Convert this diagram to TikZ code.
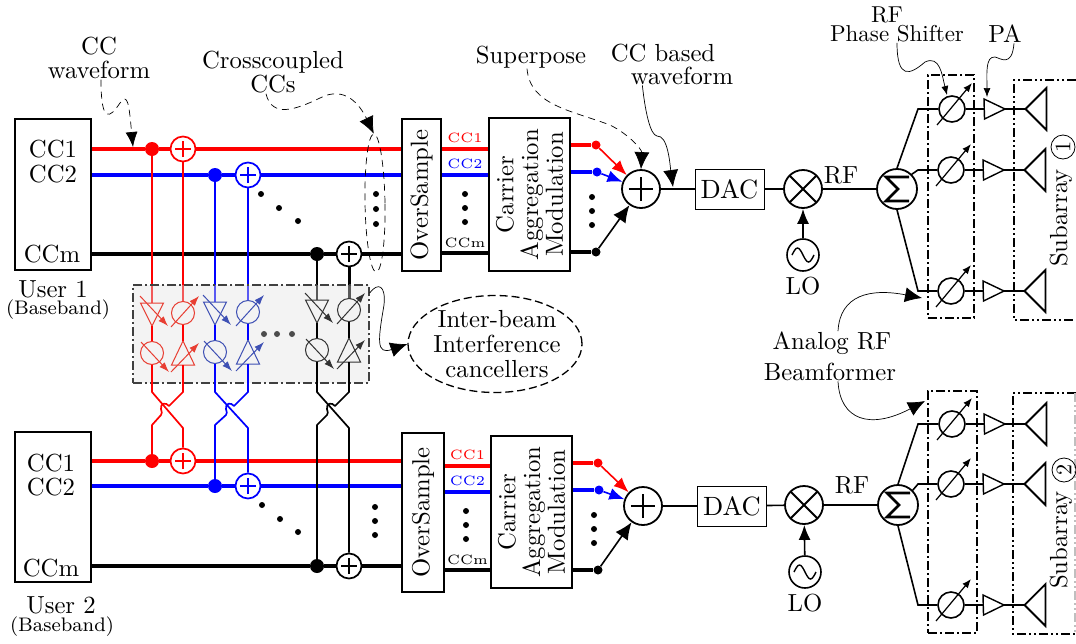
\documentclass[tikz,border=0pt]{standalone}
\usepackage{tikz}
\usetikzlibrary{arrows.meta}
\usetikzlibrary{shapes}
\usetikzlibrary{calc}
\definecolor{ccR}{RGB}{255,0,0}
\definecolor{ccB}{RGB}{0,0,255}
\definecolor{ccK}{RGB}{0,0,0}
\definecolor{fadeR}{RGB}{232,62,50}
\definecolor{fadeB}{RGB}{62,80,180}
\definecolor{fadeK}{RGB}{50,50,50}
\tikzset{
  lbl/.style={scale=2.47,font=\fontsize{10}{10}\selectfont,align=center,inner sep=0pt},
  smalllbl/.style={scale=2.45,font=\fontsize{8}{9}\selectfont,align=center,inner sep=0pt},
  cclbl/.style={scale=2.7,font=\fontsize{5}{6}\selectfont,inner sep=0pt},
  block/.style={draw,line width=1.8pt,inner sep=0pt},
  bus/.style={line width=4.6pt},
  wire/.style={line width=1.6pt},
  sumnode/.style 2 args={circle,fill=white,draw=#1,line width=1.7pt,minimum size=#2,inner sep=0pt,
    path picture={\draw[#1,line width=1.5pt]
      ([xshift=-#2*0.32]path picture bounding box.center) -- ([xshift=#2*0.32]path picture bounding box.center)
      ([yshift=-#2*0.32]path picture bounding box.center) -- ([yshift=#2*0.32]path picture bounding box.center);}},
  mixer/.style={circle,fill=white,draw,line width=1.8pt,minimum size=38pt,inner sep=0pt,
    path picture={\draw[line width=1.8pt]
      (path picture bounding box.south west) -- (path picture bounding box.north east)
      (path picture bounding box.north west) -- (path picture bounding box.south east);}},
  osc/.style={circle,draw,line width=1.6pt,minimum size=32pt,inner sep=0pt,
    path picture={\draw[line width=1.4pt] ([xshift=-11pt]path picture bounding box.center)
      sin ++(5.5,-7) cos ++(5.5,7) sin ++(5.5,7) cos ++(5.5,-7);}},
  sigma/.style={circle,fill=white,draw,line width=1.8pt,minimum size=40pt,inner sep=0pt,
    path picture={\draw[line width=2.6pt,miter limit=4] ([shift={(12,-12)}]path picture bounding box.center)
      -- ++(-23,0) -- ++(12,12) -- ++(-12,12) -- ++(23,0);}},
  tap/.style={circle,fill,minimum size=#1,inner sep=0pt},
  shifter/.style={circle,line width=1.6pt,draw,minimum size=26pt,inner sep=0pt},
  fadeshifter/.style={circle,line width=1pt,minimum size=23pt,inner sep=0pt},
  ampline/.style={line width=1.4pt},
  fadeamp/.style={line width=1pt},
  tune/.style={line width=1.2pt,-{Latex[length=9pt,width=7pt]}},
  fadetune/.style={line width=1pt,-{Latex[length=10pt,width=7pt]}},
  dashbox/.style={draw,line width=1.5pt,dash pattern=on 9pt off 3pt on 2pt off 3pt,minimum width=#1,inner sep=0pt},
  subdash/.style={line width=1.4pt,dash pattern=on 9pt off 3pt on 2pt off 3pt on 2pt off 3pt},
  note/.style={line width=0.7pt},
  dashnote/.style={line width=0.7pt,dash pattern=on 7pt off 5pt},
  bigtip/.style={-{Latex[length=17pt,width=15pt]}},
  midtip/.style={-{Latex[length=15pt,width=12pt]}},
  smalltip/.style={-{Latex[length=9pt,width=7pt]}}
}
\begin{document}
\begin{tikzpicture}[x=1pt,y=-1pt]
\useasboundingbox (0,0) rectangle (1076,643);
\foreach \us/\xs/\ys/\ws/\hs/\xc/\yc/\hc/\xm/\ra/\rb/\rk/\xo/\oa/\ob/\ok/\xa/\ya in
  {a/421.5/195/39/152/529.5/194.5/153/465/149/175/253/596/145/172/252/641/189,
   b/423/512.5/42/159/531.5/512/152/467.5/466/492/570/598/463/490/570/643/506}{
  \node[block,minimum width=\ws pt,minimum height=\hs pt] (samp\us) at (\xs,\ys) {};
  \node[lbl,rotate=90] (samptxt\us) at (\xs,\ys) {OverSample};
  \node[block,minimum width=81pt,minimum height=\hc pt] (cam\us) at (\xc,\yc) {};
  \node[lbl,rotate=90] (camtxt\us) at (\xc,\yc) {Carrier\\Aggregation\\Modulation};
  \draw[bus,ccR] (samp\us.east |- 0,\ra) -- (cam\us.west |- 0,\ra);
  \draw[bus,ccB] (samp\us.east |- 0,\rb) -- (cam\us.west |- 0,\rb);
  \draw[bus,ccK] (samp\us.east |- 0,\rk) -- (cam\us.west |- 0,\rk);
  \node[cclbl,ccR] (lblR\us) at (\xm,\ra-11) {CC1};
  \node[cclbl,ccB] (lblB\us) at (\xm,\rb-11) {CC2};
  \node[cclbl,ccK] (lblK\us) at (\xm,\rk-10) {CCm};
  \node[sumnode={black}{38pt},line width=1.8pt] (add\us) at (\xa,\ya) {};
  \node[tap=9pt,ccR] (outR\us) at (\xo,\oa) {};
  \node[tap=9pt,ccB] (outB\us) at (\xo+1,\ob) {};
  \node[tap=9pt,ccK] (outK\us) at (\xo,\ok) {};
  \draw[bus,ccR] (cam\us.east |- outR\us) -- (outR\us);
  \draw[bus,ccB] (cam\us.east |- outB\us) -- (outB\us);
  \draw[bus,ccK] (cam\us.east |- outK\us) -- (outK\us);
  \draw[wire,ccR,midtip] (outR\us) -- (add\us);
  \draw[wire,ccB,midtip] (outB\us) -- (add\us);
  \draw[wire,ccK,bigtip] (outK\us) -- (add\us);
}
\node[block,minimum width=76pt,minimum height=151pt] (usera) at (53,194.5) {};
\node[block,minimum width=76pt,minimum height=150pt] (userb) at (53,507) {};
\node[lbl] (cconea) at (53,149) {CC1};
\node[lbl] (cctwoa) at (53,174) {CC2};
\node[lbl] (ccma) at (52,254) {CCm};
\node[lbl] (cconeb) at (51,463) {CC1};
\node[lbl] (cctwob) at (51,487) {CC2};
\node[lbl] (ccmb) at (51,568) {CCm};
\node[lbl] (namea) at (53,289) {User 1};
\node[smalllbl] (basea) at (58,310) {(Baseband)};
\node[lbl] (nameb) at (61,605) {User 2};
\node[smalllbl] (baseb) at (62,627) {(Baseband)};
\foreach \ch/\xt/\xs/\ya/\yb in {R/152/183/149/461,B/215/248/175/486,K/317/349/254/566}{
  \node[tap=14pt,cc\ch] (tap\ch a) at (\xt,\ya) {};
  \node[sumnode={cc\ch}{25pt}] (sum\ch a) at (\xs,\ya) {};
  \node[tap=14pt,cc\ch] (tap\ch b) at (\xt,\yb) {};
  \node[sumnode={cc\ch}{25pt}] (sum\ch b) at (\xs,\yb) {};
  \draw[bus,cc\ch] (usera.east |- tap\ch a) -- (tap\ch a) -- (sum\ch a) -- (sampa.west |- sum\ch a);
  \draw[bus,cc\ch] (userb.east |- tap\ch b) -- (tap\ch b) -- (sum\ch b) -- (sampb.west |- sum\ch b);
}
\foreach \ch/\xa/\xb/\dy/\wb in {R/152/183/0/1.7,B/215/248/-1/1.7,K/317/349/-3/3}{
  \draw[line width=1.7pt,cc\ch] (tap\ch a) -- (\xa,303+\dy);
  \draw[line width=\wb pt,cc\ch] (sum\ch a) -- (\xb,302+\dy);
}
\node[draw=black!75,fill=black!12,fill opacity=.4,line width=1.2pt,
  dash pattern=on 9pt off 3pt on 2pt off 3pt,minimum width=236pt,minimum height=98pt,inner sep=0pt] (canbox) at (251,334) {};
\foreach \ch/\xa/\xb/\dy in {R/152/183/0,B/215/248/-1,K/317/349/-3}{
  \node[fadeshifter,draw=fade\ch] (csa\ch) at (\xa,353+\dy) {};
  \node[fadeshifter,draw=fade\ch] (csb\ch) at (\xb,313+\dy) {};
  \coordinate (tdn\ch) at (\xa,303+\dy);
  \coordinate (tap\ch) at (\xa,326+\dy);
  \coordinate (tup\ch) at (\xb,341+\dy);
  \coordinate (tbs\ch) at (\xb,365+\dy);
  \draw[fadeamp,draw=fade\ch] (tdn\ch) ++(-11.5,0) -- ++(23,0) -- (tap\ch) -- cycle;
  \draw[fadeamp,draw=fade\ch] (tbs\ch) ++(-11.5,0) -- ++(23,0) -- (tup\ch) -- cycle;
  \draw[fadetune,fade\ch] (\xa-12,296+\dy) -- (\xa+16,326+\dy);
  \draw[fadetune,fade\ch] (\xa-11,342+\dy) -- (\xa+17,372+\dy);
  \draw[fadetune,fade\ch] (\xb-12,327+\dy) -- (\xb+16,296+\dy);
  \draw[fadetune,fade\ch] (\xb-12,372+\dy) -- (\xb+16,343+\dy);
  \draw[line width=1.7pt,cc\ch] (tap\ch) -- (csa\ch);
  \draw[line width=1.7pt,cc\ch] (csb\ch) -- (tup\ch);
  \draw[line width=1.7pt,cc\ch,line join=round] (csa\ch) -- (\xa,392) -- (\xb,428) -- (sum\ch b);
  \draw[line width=1.7pt,cc\ch,line join=round] (tbs\ch) -- (\xb,392) -- (\xb-14,406)
    .. controls (\xb-17,402) and (\xb-23,403) .. (\xb-22,409)
    .. controls (\xb-21,413) .. (\xb-22,415) -- (\xa,425) -- (tap\ch b);
}
\foreach \x/\y in {264/334,277/334,292/334}{\fill[black!70] (\x,\y) circle (3pt);}
\foreach \x/\y in {261/194,279/208,298/221,376/194,376/209,376/224,465/194,465/208,465/222,592/197,592/211,592/225,
  262/505,280/519,298/532,375/507,375/521,375/535,466/511,466/525,466/539,594/515,594/529,594/543}{
  \fill (\x,\y) circle (3pt);
}
\foreach \us/\xd/\yd/\xm/\ym/\xo/\yo/\xr/\yr/\xg/\yg/\yu/\ys/\yl in
  {a/729.5/189/803/189/803/255/841/175/897/189/109/170/291,
   b/732/506/804/505/805/572/852/485/898/505/424/484/605}{
  \node[draw,line width=0.9pt,minimum width=69pt,minimum height=40pt,inner sep=0pt] (dac\us) at (\xd,\yd) {};
  \node[lbl,scale=1.07] (dactxt\us) at (\xd,\yd) {DAC};
  \node[mixer] (mix\us) at (\xm,\ym) {};
  \node[osc] (osc\us) at (\xo,\yo) {};
  \node[lbl,anchor=north] (lo\us) at (\xo,\yo+22) {LO};
  \node[lbl] (rf\us) at (\xr,\yr) {RF};
  \node[sigma] (sig\us) at (\xg,\yg) {};
  \draw[wire] (add\us) -- (dac\us);
  \draw[wire] (dac\us) -- (mix\us);
  \draw[wire] (mix\us) -- (sig\us);
  \draw[wire,midtip] (osc\us) -- (mix\us);
  \node[shifter] (ps\us 1) at (952,\yu) {};
  \node[shifter] (ps\us 2) at (951,\ys) {};
  \node[shifter] (ps\us 3) at (951,\yl) {};
  \draw[wire] (sig\us.north) -- (918,\yu) -- (ps\us 1);
  \draw[wire] (sig\us.45) -- (918,\ys) -- (ps\us 2);
  \draw[wire] (sig\us.south) -- (918,\yl) -- (ps\us 3);
  \foreach \row in {1,2,3}{
    \coordinate (pain\us\row) at ($(ps\us\row)+(32,0)$);
    \coordinate (paout\us\row) at ($(ps\us\row)+(53,0)$);
    \coordinate (ant\us\row) at ($(ps\us\row)+(73.5,0)$);
    \draw[tune] ([shift={(-15,16)}]ps\us\row.center) -- ([shift={(20,-26)}]ps\us\row.center);
    \draw[wire] (ps\us\row) -- (pain\us\row);
    \draw[ampline] (pain\us\row) ++(0,-10) -- (paout\us\row) -- ++(-20.5,10) -- cycle;
    \draw[wire] (paout\us\row) -- (ant\us\row);
    \draw[line width=1.8pt,line join=miter] (ant\us\row) -- ++(21,-21) -- ++(0,42) -- cycle;
  }
}
\node[dashbox=46pt,minimum height=243pt] (psboxa) at (951,196.5) {};
\node[dashbox=49pt,minimum height=242pt] (psboxb) at (952.5,512) {};
\draw[subdash] (1076,80) -- (1014,80) -- (1014,320) -- (1076,320);
\draw[subdash] (1076,393) -- (1013,393) -- (1013,634) -- (1076,634);
\draw[subdash,black!25] (1075,393) -- (1075,634);
\node[lbl,rotate=90] (subtxta) at (1061,218) {Subarray};
\node[lbl,rotate=90] (subtxtb) at (1061,540) {Subarray};
\node[circle,draw,line width=0.8pt,minimum size=24pt,inner sep=0pt] (subringa) at (1063,147) {};
\node[circle,draw,line width=0.8pt,minimum size=24pt,inner sep=0pt] (subringb) at (1064,470) {};
\node[lbl,rotate=90,scale=.9] (subnuma) at (1063,147) {1};
\node[lbl,rotate=90,scale=.9] (subnumb) at (1064,470) {2};
\node[lbl] (ccwave) at (99,58) {CC\\waveform};
\node[lbl] (crosscc) at (273,72) {Crosscoupled\\CCs};
\node[lbl] (superpose) at (531,57) {Superpose};
\node[lbl] (basedtop) at (663,53) {CC based};
\node[lbl] (basedlow) at (682,76) {waveform};
\node[lbl,scale=.93] (rftop) at (887,15) {RF};
\node[lbl,scale=.93] (shifttxt) at (897,34) {Phase Shifter};
\node[lbl] (patxt) at (1005,34) {PA};
\node[lbl] (analog) at (832,343) {Analog RF};
\node[lbl] (beamtxt) at (830,372) {Beamformer};
\node[lbl] (canceltxt) at (497,344) {Inter-beam\\Interference\\cancellers};
\node[ellipse,draw,line width=1.3pt,dash pattern=on 8pt off 4pt,minimum width=174pt,minimum height=97pt,inner sep=0pt] (cancelring) at (495,344) {};
\node[ellipse,draw,dashnote,rotate=1,minimum width=20pt,minimum height=138pt,inner sep=0pt] (dotring) at (375,203) {};
\coordinate (ccmark) at (133,147);
\coordinate (basedmark) at (673,187);
\coordinate (shiftmark) at (947,95);
\coordinate (pamark) at (987,97);
\coordinate (analogmark) at (922,298);
\coordinate (beammark) at (925,401);
\draw[dashnote,midtip] ([xshift=2pt]ccwave.south) .. controls (101,125) and (110,118) .. (120,103)
  .. controls (128,92) and (129,105) .. (ccmark);
\draw[dashnote,bigtip] ([xshift=-7pt]crosscc.south) .. controls (272,118) and (295,110) .. (320,98)
  .. controls (345,85) and (360,105) .. (dotring.north);
\draw[dashnote,bigtip] ([xshift=-4pt]superpose.south) .. controls (530,105) and (570,110) .. (610,125)
  .. controls (630,135) and (642,150) .. (adda.north);
\draw[note,bigtip] ([xshift=12pt]basedlow.south west) .. controls (645,110) and (650,135) .. (657,136)
  .. controls (668,135) and (670,165) .. (basedmark);
\draw[note,smalltip] (shifttxt.south) .. controls (897,80) and (910,75) .. (925,62)
  .. controls (940,55) and (942,75) .. (shiftmark);
\draw[note,smalltip] ([xshift=9pt]patxt.south) .. controls (1012,68) and (1000,58) .. (995,57)
  .. controls (985,56) and (987,75) .. (pamark);
\draw[note,bigtip] ([xshift=6pt]analog.north) .. controls (840,295) and (870,288) .. (analogmark);
\draw[note,bigtip] ([xshift=8pt]beamtxt.south) .. controls (840,420) and (870,430) .. (beammark);
\draw[note,bigtip] (canbox.east |- 0,293) .. controls (378,282) and (386,285) .. (384,305)
  .. controls (378,340) and (376,355) .. (cancelring.west);
\end{tikzpicture}
\end{document}
